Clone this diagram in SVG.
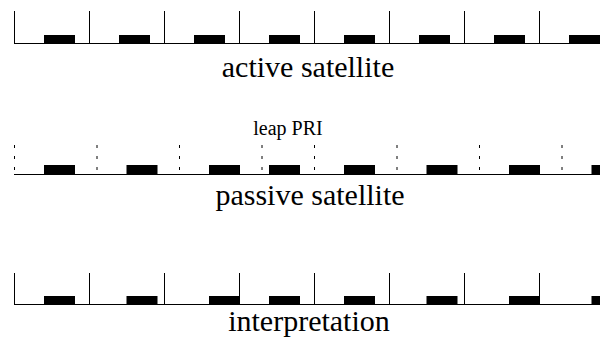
<svg xmlns="http://www.w3.org/2000/svg" width="603" height="342" viewBox="0 0 603 342">
  <style>
    .axis { stroke: #000; stroke-width: 1; fill: none; }
    .tick { stroke: #000; stroke-width: 1; fill: none; }
    .dot { stroke: #000; stroke-width: 1; fill: none; stroke-dasharray: 3 8; }
    .pulse { fill: #000; stroke: none; }
    .label { font-family: "Liberation Serif", serif; fill: #000; text-anchor: middle; }
  </style>
  <rect width="603" height="342" fill="#fff"/>

  <!-- active satellite: regular pulse train, solid PRI markers -->
  <g id="active">
    <line class="axis" x1="14" y1="43.5" x2="600" y2="43.5"/>
    <g class="tick">
      <line x1="14.5" y1="11" x2="14.5" y2="44"/>
      <line x1="89.5" y1="11" x2="89.5" y2="44"/>
      <line x1="164.5" y1="11" x2="164.5" y2="44"/>
      <line x1="239.5" y1="11" x2="239.5" y2="44"/>
      <line x1="314.5" y1="11" x2="314.5" y2="44"/>
      <line x1="389.5" y1="11" x2="389.5" y2="44"/>
      <line x1="464.5" y1="11" x2="464.5" y2="44"/>
      <line x1="539.5" y1="11" x2="539.5" y2="44"/>
    </g>
    <g class="pulse">
      <rect x="44" y="35" width="31" height="9"/>
      <rect x="119" y="35" width="31" height="9"/>
      <rect x="194" y="35" width="31" height="9"/>
      <rect x="269" y="35" width="31" height="9"/>
      <rect x="344" y="35" width="31" height="9"/>
      <rect x="419" y="35" width="31" height="9"/>
      <rect x="494" y="35" width="31" height="9"/>
      <rect x="569" y="35" width="31" height="9"/>
    </g>
    <text class="label" x="308" y="77" font-size="30">active satellite</text>
  </g>

  <!-- passive satellite: longer PRI with one leap, dotted markers -->
  <g id="passive">
    <text class="label" x="288" y="135" font-size="20">leap PRI</text>
    <line class="axis" x1="14" y1="174.5" x2="600" y2="174.5"/>
    <g class="dot">
      <line x1="14.5" y1="145" x2="14.5" y2="174"/>
      <line x1="97" y1="145" x2="97" y2="174"/>
      <line x1="179.5" y1="145" x2="179.5" y2="174"/>
      <line x1="262" y1="145" x2="262" y2="174"/>
      <line x1="314.5" y1="145" x2="314.5" y2="174"/>
      <line x1="397" y1="145" x2="397" y2="174"/>
      <line x1="479.5" y1="145" x2="479.5" y2="174"/>
      <line x1="562" y1="145" x2="562" y2="174"/>
    </g>
    <g class="pulse">
      <rect x="44" y="165" width="31" height="10"/>
      <rect x="126.5" y="165" width="31" height="10"/>
      <rect x="209" y="165" width="31" height="10"/>
      <rect x="269" y="165" width="31" height="10"/>
      <rect x="344" y="165" width="31" height="10"/>
      <rect x="426.5" y="165" width="31" height="10"/>
      <rect x="509" y="165" width="31" height="10"/>
      <rect x="591.5" y="165" width="8.5" height="10"/>
    </g>
    <text class="label" x="310" y="205" font-size="30">passive satellite</text>
  </g>

  <!-- interpretation: passive pulses read against the active PRI grid -->
  <g id="interpretation">
    <line class="axis" x1="14" y1="304.5" x2="600" y2="304.5"/>
    <g class="tick">
      <line x1="14.5" y1="273" x2="14.5" y2="305"/>
      <line x1="89.5" y1="273" x2="89.5" y2="305"/>
      <line x1="164.5" y1="273" x2="164.5" y2="305"/>
      <line x1="239.5" y1="273" x2="239.5" y2="305"/>
      <line x1="314.5" y1="273" x2="314.5" y2="305"/>
      <line x1="389.5" y1="273" x2="389.5" y2="305"/>
      <line x1="464.5" y1="273" x2="464.5" y2="305"/>
      <line x1="539.5" y1="273" x2="539.5" y2="305"/>
    </g>
    <g class="pulse">
      <rect x="44" y="296" width="31" height="9"/>
      <rect x="126.5" y="296" width="31" height="9"/>
      <rect x="209" y="296" width="30.5" height="9"/>
      <rect x="269" y="296" width="31" height="9"/>
      <rect x="344" y="296" width="31" height="9"/>
      <rect x="426.5" y="296" width="31" height="9"/>
      <rect x="509" y="296" width="30.5" height="9"/>
      <rect x="591.5" y="296" width="8.5" height="9"/>
    </g>
    <text class="label" x="309" y="331" font-size="30">interpretation</text>
  </g>
</svg>
